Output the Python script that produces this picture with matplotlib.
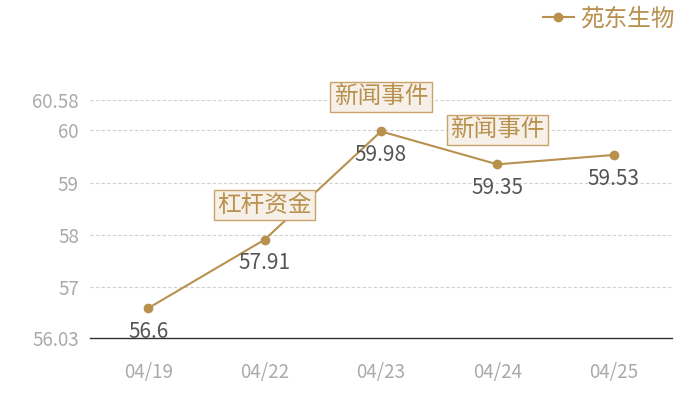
import matplotlib
matplotlib.use("Agg")
import matplotlib.pyplot as plt
from matplotlib.lines import Line2D

plt.rcParams['font.family'] = ['Noto Sans CJK SC', 'DejaVu Sans']

dates = ["04/19", "04/22", "04/23", "04/24", "04/25"]
prices = [56.6, 57.91, 59.98, 59.35, 59.53]
events = {1: "杠杆资金", 2: "新闻事件", 3: "新闻事件"}
y_ticks = [56.03, 57, 58, 59, 60, 60.58]
series_name = "苑东生物"

GOLD = "#b8914e"
GRID = "#d0d0d0"

fig = plt.figure(figsize=(7, 4), dpi=100)
ax = fig.add_axes([90 / 700, 62 / 400, 582 / 700, 238 / 400])

x = list(range(len(dates)))
ax.plot(x, prices, color=GOLD, lw=1.5, marker="o", ms=6, zorder=3)

for i, v in enumerate(prices):
    ax.annotate(f"{v:g}", (i, v), xytext=(0, -17), textcoords="offset points",
                ha="center", va="center", fontsize=15, color="#555555")

for i, label in events.items():
    ax.annotate(label, (i, prices[i]), xytext=(0, 25), textcoords="offset points",
                ha="center", va="center", fontsize=17, color=GOLD,
                bbox=dict(boxstyle="square,pad=0.15", fc="#f6f0e8", ec="#c9a36a", lw=1))

ax.set_xlim(-0.5, len(dates) - 0.5)
ax.set_ylim(y_ticks[0], y_ticks[-1])
ax.set_xticks(x)
ax.set_xticklabels(dates)
ax.set_yticks(y_ticks)
ax.set_yticklabels([f"{t:g}" for t in y_ticks])
ax.tick_params(length=0, labelsize=13.5, colors="#aaaaaa")
ax.tick_params(axis="x", pad=17)
ax.tick_params(axis="y", pad=8)
for t in y_ticks[1:]:
    ax.axhline(t, color=GRID, lw=0.8, ls=(0, (3, 2)), zorder=1)

for s in ["top", "right", "left"]:
    ax.spines[s].set_visible(False)
ax.spines["bottom"].set_color("#333333")
ax.spines["bottom"].set_linewidth(1)

handle = Line2D([], [], color=GOLD, lw=1.5, marker="o", ms=6)
fig.legend([handle], [series_name], loc="upper right", bbox_to_anchor=(0.995, 1.035),
           frameon=False, fontsize=17, labelcolor=GOLD, handlelength=1.3,
           handletextpad=0.3)

fig.savefig("out.png", dpi=100)
